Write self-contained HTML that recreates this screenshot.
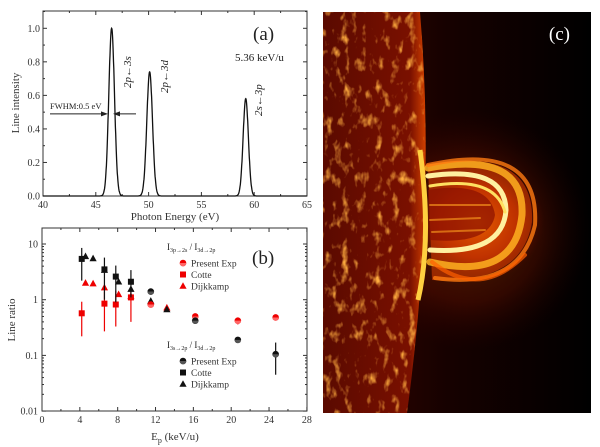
<!DOCTYPE html>
<html><head><meta charset="utf-8"><style>
html,body{margin:0;padding:0;background:#fff;width:600px;height:447px;overflow:hidden}
svg{display:block;font-family:"Liberation Serif",serif}
</style></head><body>
<svg id="s" width="600" height="447" viewBox="0 0 600 447">
<defs>
<filter id="tex" x="0" y="0" width="1" height="1">
<feTurbulence type="fractalNoise" baseFrequency="0.12 0.07" numOctaves="3" seed="4" result="n"/>
<feColorMatrix in="n" type="matrix" values="0 0 0 0 1  0 0 0 0 0.42  0 0 0 0 0.05  3.2 0 0 0 -1.75"/>
<feComposite in2="SourceGraphic" operator="in"/>
</filter>
<linearGradient id="bg" x1="0" x2="1" y1="0" y2="0">
<stop offset="0" stop-color="#3a0600"/><stop offset="0.45" stop-color="#170100"/><stop offset="1" stop-color="#000"/>
</linearGradient>
<radialGradient id="glow" cx="0.5" cy="0.5" r="0.5">
<stop offset="0" stop-color="#ff9000" stop-opacity="0.9"/><stop offset="0.6" stop-color="#d02800" stop-opacity="0.6"/><stop offset="1" stop-color="#600000" stop-opacity="0"/>
</radialGradient>
<linearGradient id="limb" x1="0" x2="1">
<stop offset="0" stop-color="#5a0a00"/><stop offset="0.85" stop-color="#7a1000"/><stop offset="1" stop-color="#d04000"/>
</linearGradient>
</defs>
<!-- panel c -->
<rect x="323" y="12" width="268" height="401" fill="url(#bg)"/>
<ellipse cx="470" cy="230" rx="120" ry="120" fill="url(#glow)" opacity="0.3"/>
<path d="M323,12 L420,12 Q436,200 407,413 L323,413 Z" fill="url(#limb)"/>
<path d="M323,12 L420,12 Q436,200 407,413 L323,413 Z" fill="#ff9a20" filter="url(#tex)"/>
<ellipse cx="478" cy="222" rx="66" ry="60" fill="url(#glow)"/>
<path d="M428,165 Q535,145 532,222 Q522,285 432,280 Z" fill="#e04000" opacity="0.55"/>
<path d="M428,190 Q490,180 495,215 Q490,245 430,240 Z" fill="#8a1000" opacity="0.7"/>
<g fill="none" stroke-linecap="round">
<path d="M428,168 Q525,150 522,215 Q515,282 430,262" stroke="#ffb020" stroke-width="7" opacity="0.85"/>
<path d="M428,176 Q505,165 506,210 Q503,255 430,250" stroke="#fff0a0" stroke-width="5"/>
<path d="M430,186 Q495,175 505,212" stroke="#ffe060" stroke-width="3"/>
<path d="M428,165 Q540,140 535,225 Q520,290 435,278" stroke="#ff7a10" stroke-width="4" opacity="0.8"/>
<path d="M432,262 Q480,300 525,255" stroke="#ff6000" stroke-width="4" opacity="0.7"/>
<path d="M430,205 L490,205 M430,220 L480,218 M432,232 L485,230" stroke="#ffa020" stroke-width="2" opacity="0.6"/>
</g>
<path d="M420,150 Q432,240 418,300" stroke="#ffd040" stroke-width="5" fill="none"/>
<text x="570" y="40" fill="#fff" font-size="19" text-anchor="end">(c)</text>
<g id="a"></g><g id="b"></g>
</svg>
<script>
var NS="http://www.w3.org/2000/svg";
function el(p,t,a,tx){var e=document.createElementNS(NS,t);for(var k in a)e.setAttribute(k,a[k]);if(tx!=null)e.textContent=tx;p.appendChild(e);return e;}
var A=document.getElementById('a'),B=document.getElementById('b');
var ax=function(x){return 43+(x-40)*10.56},ay=function(y){return 196-y*167.7};
el(A,'rect',{x:43,y:11,width:264,height:185,fill:'none',stroke:'#333','stroke-width':1});
for(var x=40;x<=65;x+=2.5){var X=ax(x),L=(x%5==0)?4:2;el(A,'line',{x1:X,x2:X,y1:196,y2:196-L,stroke:'#333'});el(A,'line',{x1:X,x2:X,y1:11,y2:11+L,stroke:'#333'});if(x%5==0)el(A,'text',{x:X,y:208,'font-size':10,'text-anchor':'middle',fill:'#333'},x);}
for(var i=0;i<=11;i++){var y=i*0.1,Y=ay(y),L=(i%2==0)?4:2;el(A,'line',{x1:43,x2:43+L,y1:Y,y2:Y,stroke:'#333'});el(A,'line',{x1:307,x2:307-L,y1:Y,y2:Y,stroke:'#333'});if(i%2==0&&i<=10)el(A,'text',{x:40,y:Y+3.5,'font-size':10,'text-anchor':'end',fill:'#333'},y.toFixed(1));}
var d='';for(var x=40;x<=65;x+=0.02){var v=Math.exp(-Math.pow(x-46.5,2)/(2*.27*.27))+0.74*Math.exp(-Math.pow(x-50.1,2)/(2*.27*.27))+0.58*Math.exp(-Math.pow(x-59.2,2)/(2*.25*.25));d+=(d?'L':'M')+ax(x).toFixed(1)+','+ay(v).toFixed(1);}
el(A,'path',{d:d,fill:'none',stroke:'#111','stroke-width':1.3});
el(A,'text',{x:175,y:220,'font-size':11,'text-anchor':'middle',fill:'#333'},'Photon Energy (eV)');
el(A,'text',{x:0,y:0,'font-size':11,'text-anchor':'middle',fill:'#333',transform:'translate(19,103) rotate(-90)'},'Line intensity');
el(A,'text',{x:253,y:40,'font-size':19,fill:'#222'},'(a)');
el(A,'text',{x:235,y:61,'font-size':11,fill:'#222'},'5.36 keV/u');
var fy=ay(0.49);
el(A,'line',{x1:50,x2:104,y1:fy,y2:fy,stroke:'#222'});el(A,'path',{d:'M108,'+fy+' L101,'+(fy-2.5)+' L101,'+(fy+2.5)+'Z',fill:'#222'});
el(A,'line',{x1:117,x2:136,y1:fy,y2:fy,stroke:'#222'});el(A,'path',{d:'M113,'+fy+' L120,'+(fy-2.5)+' L120,'+(fy+2.5)+'Z',fill:'#222'});
el(A,'text',{x:50,y:fy-5,'font-size':8.5,fill:'#222'},'FWHM:0.5 eV');
function rt(x,y,h){var t=el(A,'text',{x:0,y:0,'font-size':11,fill:'#222','font-style':'italic',transform:'translate('+x+','+y+') rotate(-90)'});t.innerHTML=h;}
rt(131,88,'2p←3s');rt(168,93,'2p←3d');rt(262,116,'2s←3p');
var bx=function(x){return 42+x*9.46},by=function(v){return 299.7-55.7*Math.log10(v)};
el(B,'rect',{x:42,y:228,width:265,height:183,fill:'none',stroke:'#333'});
for(var x=0;x<=28;x+=2){var X=bx(x),L=(x%4==0)?4:2;el(B,'line',{x1:X,x2:X,y1:411,y2:411-L,stroke:'#333'});el(B,'line',{x1:X,x2:X,y1:228,y2:228+L,stroke:'#333'});if(x%4==0)el(B,'text',{x:X,y:423,'font-size':10,'text-anchor':'middle',fill:'#333'},x);}
[0.01,0.1,1,10].forEach(function(v){var Y=by(v);el(B,'line',{x1:42,x2:46,y1:Y,y2:Y,stroke:'#333'});el(B,'line',{x1:307,x2:303,y1:Y,y2:Y,stroke:'#333'});el(B,'text',{x:38,y:Y+3.5,'font-size':10,'text-anchor':'end',fill:'#333'},v);for(var m=2;m<10;m++){var YY=by(v*m);if(YY>228){el(B,'line',{x1:42,x2:44,y1:YY,y2:YY,stroke:'#333'});el(B,'line',{x1:307,x2:305,y1:YY,y2:YY,stroke:'#333'});}}});
el(B,'text',{x:0,y:0,'font-size':11,'text-anchor':'middle',fill:'#333',transform:'translate(15,320) rotate(-90)'},'Line ratio');
var t=el(B,'text',{x:175,y:440,'font-size':11,'text-anchor':'middle',fill:'#333'});t.innerHTML='E<tspan font-size="8" dy="3">p</tspan><tspan dy="-3"> (keV/u)</tspan>';
el(B,'text',{x:252,y:264,'font-size':19,fill:'#222'},'(b)');
function mk(x,y,s,c){if(s=='c'){el(B,'circle',{cx:x,cy:y,r:3.3,fill:c});el(B,'path',{d:'M'+(x-3.3)+','+y+' A3.3,3.3 0 0 0 '+(x+3.3)+','+y,fill:c=='#e00'?'#f66':'#555'});}
else if(s=='s')el(B,'rect',{x:x-3,y:y-3,width:6,height:6,fill:c});else el(B,'path',{d:'M'+x+','+(y-3.8)+' L'+(x+3.6)+','+(y+2.8)+' L'+(x-3.6)+','+(y+2.8)+'Z',fill:c});}
function pt(E,v,s,c,lo,hi){var X=bx(E);if(lo)el(B,'line',{x1:X,x2:X,y1:by(lo),y2:by(hi),stroke:c,'stroke-width':1.2});mk(X,by(v),s,c);}
var R='#e00',K='#111';
pt(4.2,0.57,'s',R,0.22,0.92);pt(6.6,0.85,'s',R,0.27,1.4);pt(7.8,0.82,'s',R,0.33,1.45);pt(9.4,1.1,'s',R,0.4,1.6);
[[4.6,2.0],[5.4,1.95],[6.6,1.65],[8.1,1.25],[9.4,1.15],[11.5,0.9],[13.2,0.72]].forEach(function(p){pt(p[0],p[1],'t',R)});
pt(4.2,5.4,'s',K,2.2,8.5);pt(6.6,3.5,'s',K,1.0,5.7);pt(7.8,2.6,'s',K,0.9,4.1);pt(9.4,2.1,'s',K,1.1,3.4);
[[4.6,6.0],[5.4,5.5],[6.6,3.4],[8.1,2.1],[9.4,1.55],[11.5,0.95],[13.2,0.67]].forEach(function(p){pt(p[0],p[1],'t',K)});
pt(11.5,0.82,'c',R);pt(16.2,0.5,'c',R);pt(20.7,0.42,'c',R,0.36,0.48);pt(24.7,0.48,'c',R);
pt(11.5,1.4,'c',K);pt(16.2,0.42,'c',K,0.37,0.47);pt(20.7,0.19,'c',K);pt(24.7,0.105,'c',K,0.045,0.17);
function lg(y0,sub1,c){var t=el(B,'text',{x:167,y:y0,'font-size':9,fill:'#222'});t.innerHTML='I<tspan font-size="6" dy="2">'+sub1+'</tspan><tspan dy="-2"> / I</tspan><tspan font-size="6" dy="2">3d→2p</tspan>';
[['c','Present Exp'],['s','Cotte'],['t','Dijkkamp']].forEach(function(q,i){var y=y0+13+i*11.5;mk(183,y,q[0],c);el(B,'text',{x:191,y:y+3.5,'font-size':9.5,fill:'#333'},q[1]);});}
lg(250,'3p→2s',R);lg(348,'3s→2p',K);
</script>
</body></html>
